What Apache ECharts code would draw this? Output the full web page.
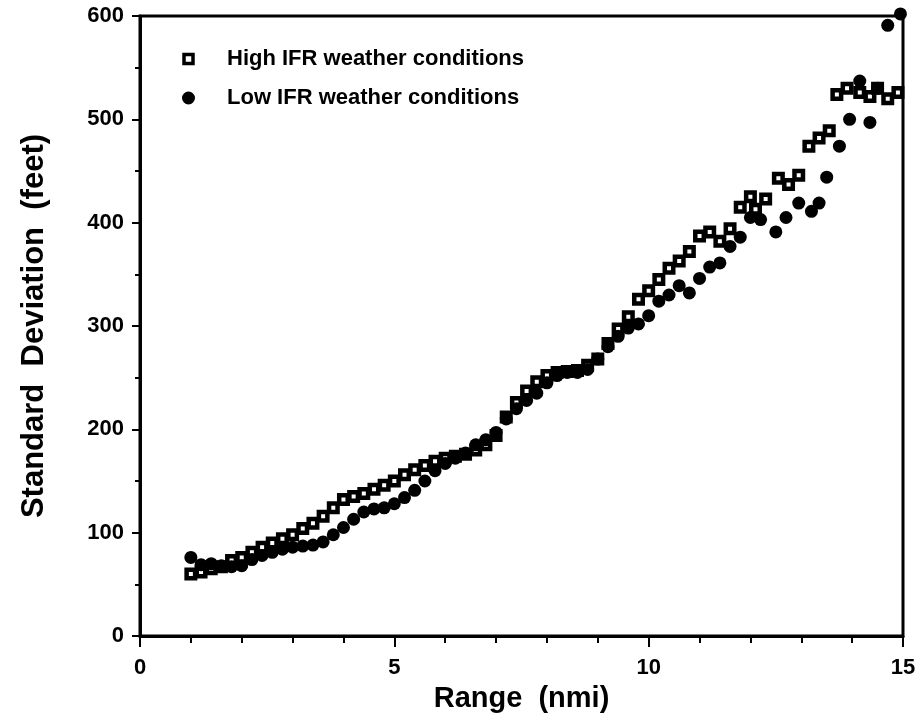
<!DOCTYPE html>
<html lang="en">
<head>
    <meta charset="UTF-8">
    <title>Standard Deviation vs Range</title>
    <script src="https://cdn.jsdelivr.net/npm/echarts@6/dist/echarts.min.js"></script>
    <style>
        html, body { margin: 0; padding: 0; background: #fff; }
        #chart { width: 923px; height: 721px; }
    </style>
</head>
<body>
    <div id="chart"></div>
    <script>
        // High IFR (hollow squares)
        var highX = [1.0, 1.2, 1.4, 1.6, 1.8, 2.0, 2.2, 2.4, 2.6, 2.8, 3.0, 3.2, 3.4, 3.6, 3.8,
            4.0, 4.2, 4.4, 4.6, 4.8, 5.0, 5.2, 5.4, 5.6, 5.8, 6.0, 6.2, 6.4, 6.6, 6.8,
            7.0, 7.2, 7.4, 7.6, 7.8, 8.0, 8.2, 8.4, 8.6, 8.8, 9.0, 9.2, 9.4, 9.6, 9.8,
            10.0, 10.2, 10.4, 10.6, 10.8, 11.0, 11.2, 11.4, 11.6, 11.8, 12.0, 12.1, 12.3, 12.55, 12.75,
            12.95, 13.15, 13.35, 13.55, 13.7, 13.9, 14.15, 14.35, 14.5, 14.7, 14.9];
        var highY = [60, 62, 65, 67, 73, 76, 81, 86, 90, 94, 98, 104, 109, 116, 124,
            132, 135, 138, 142, 146, 150, 156, 161, 165, 169, 172, 174, 176, 180, 185,
            194, 212, 226, 237, 246, 252, 255, 256, 257, 262, 268, 283, 297, 309, 326,
            334, 345, 356, 363, 372, 387, 391, 382, 394, 415, 425, 413, 423, 443, 437,
            446, 474, 482, 489, 524, 530, 526, 522, 530, 520, 526];

        // Low IFR (filled circles)
        var lowX = [1.0, 1.2, 1.4, 1.6, 1.8, 2.0, 2.2, 2.4, 2.6, 2.8, 3.0, 3.2, 3.4, 3.6, 3.8,
            4.0, 4.2, 4.4, 4.6, 4.8, 5.0, 5.2, 5.4, 5.6, 5.8, 6.0, 6.2, 6.4, 6.6, 6.8,
            7.0, 7.2, 7.4, 7.6, 7.8, 8.0, 8.2, 8.4, 8.6, 8.8, 9.0, 9.2, 9.4, 9.6, 9.8,
            10.0, 10.2, 10.4, 10.6, 10.8, 11.0, 11.2, 11.4, 11.6, 11.8, 12.0, 12.2, 12.5, 12.7, 12.95,
            13.2, 13.35, 13.5, 13.75, 13.95, 14.15, 14.35, 14.5, 14.7, 14.95];
        var lowY = [76, 69, 70, 68, 67, 68, 74, 78, 81, 84, 86, 87, 88, 91, 98,
            105, 113, 120, 123, 124, 128, 134, 141, 150, 160, 167, 172, 177, 185, 190,
            197, 210, 220, 228, 235, 245, 252, 255, 255, 258, 268, 280, 290, 298, 302,
            310, 324, 330, 339, 332, 346, 357, 361, 377, 386, 405, 403, 391, 405, 419,
            411, 419, 444, 474, 500, 537, 497, 530, 591, 602];

        var xTicks = [0, 5, 10, 15];
        var yTicks = [0, 100, 200, 300, 400, 500, 600];
        var seriesNames = ['High IFR weather conditions', 'Low IFR weather conditions'];

        function pairs(xs, ys) {
            return xs.map(function (x, i) { return [x, ys[i]]; });
        }

        var font = 'Liberation Sans, Arial, sans-serif';
        var chart = echarts.init(document.getElementById('chart'));

        chart.setOption({
            animation: false,
            backgroundColor: '#fff',
            grid: {
                left: 140, right: 20, top: 16, bottom: 85,
                show: true, borderColor: '#000', borderWidth: 3
            },
            legend: {
                orient: 'vertical',
                left: 177, top: 43,
                itemWidth: 9, itemHeight: 9,
                itemGap: 17,
                textStyle: { fontFamily: font, fontWeight: 'bold', fontSize: 22, color: '#000', padding: [0, 0, 0, 29] },
                data: [
                    { name: seriesNames[0], icon: 'rect', itemStyle: { color: '#fff', borderColor: '#000', borderWidth: 3.5 } },
                    { name: seriesNames[1], icon: 'circle', itemStyle: { color: '#000', borderColor: '#000', borderWidth: 4 } }
                ]
            },
            xAxis: {
                type: 'value',
                min: xTicks[0], max: xTicks[xTicks.length - 1], interval: 5,
                name: 'Range  (nmi)',
                nameLocation: 'middle',
                nameGap: 48,
                nameTextStyle: { fontFamily: font, fontWeight: 'bold', fontSize: 29, color: '#000' },
                axisLine: { lineStyle: { color: '#000', width: 3 } },
                axisTick: { inside: false, length: 11, lineStyle: { color: '#000', width: 2 } },
                minorTick: { show: true, splitNumber: 5, length: 7, lineStyle: { color: '#000', width: 2 } },
                splitLine: { show: false },
                axisLabel: { margin: 21, fontFamily: font, fontWeight: 'bold', fontSize: 22, color: '#000' }
            },
            yAxis: {
                type: 'value',
                min: yTicks[0], max: yTicks[yTicks.length - 1], interval: 100,
                name: 'Standard  Deviation  (feet)',
                nameLocation: 'middle',
                nameGap: 90,
                nameTextStyle: { fontFamily: font, fontWeight: 'bold', fontSize: 31, color: '#000' },
                axisLine: { lineStyle: { color: '#000', width: 3 } },
                axisTick: { inside: false, length: 8, lineStyle: { color: '#000', width: 2 } },
                minorTick: { show: true, splitNumber: 2, length: 5, lineStyle: { color: '#000', width: 2 } },
                splitLine: { show: false },
                axisLabel: { margin: 16, fontFamily: font, fontWeight: 'bold', fontSize: 22, color: '#000' }
            },
            series: [
                {
                    name: seriesNames[0],
                    type: 'scatter',
                    clip: false,
                    symbol: 'rect',
                    symbolSize: 8.5,
                    itemStyle: { color: '#fff', borderColor: '#000', borderWidth: 4.5, opacity: 1 },
                    data: pairs(highX, highY)
                },
                {
                    name: seriesNames[1],
                    type: 'scatter',
                    clip: false,
                    symbol: 'circle',
                    symbolSize: 13,
                    itemStyle: { color: '#000', opacity: 1 },
                    data: pairs(lowX, lowY)
                }
            ]
        });
    </script>
</body>
</html>
